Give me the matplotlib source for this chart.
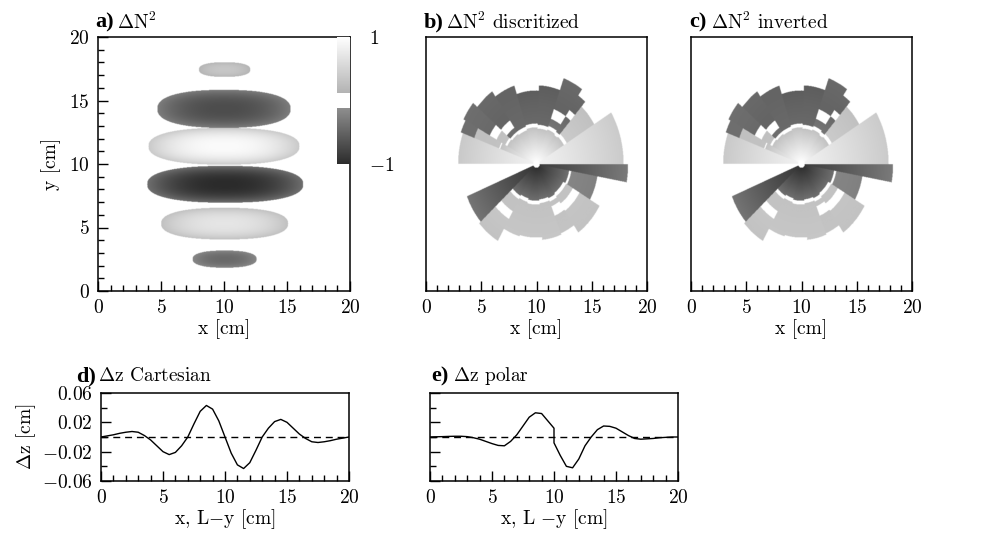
import numpy as np
import matplotlib
matplotlib.use('Agg')
import matplotlib.pyplot as plt
from matplotlib.colors import LinearSegmentedColormap, Normalize
from matplotlib.ticker import MultipleLocator, FixedLocator

plt.rcParams['font.family'] = 'serif'
plt.rcParams['font.serif'] = ['cmr10', 'DejaVu Serif']
plt.rcParams['mathtext.fontset'] = 'cm'
plt.rcParams['axes.formatter.use_mathtext'] = True
plt.rcParams['font.size'] = 14

W, H = 991, 534

## == panel a: bands of the Cartesian field ==
band_y   = [2.5, 5.3, 8.4, 11.4, 14.35, 17.45]    # centre of each band (cm)
band_hy  = [0.68, 1.25, 1.45, 1.45, 1.5, 0.58]    # half height
band_x0  = [7.5, 5.0, 3.9, 4.0, 4.7, 8.0]         # left end
band_x1  = [12.6, 15.1, 16.3, 16.0, 15.3, 12.1]   # right end
band_amp = [-0.45, 0.7, -1.0, 0.95, -0.7, 0.35]   # peak value

## == panels b, c: polar cells (angle edges in deg, then radial pieces r1, r2, v1, v2) ==
wedge_edges = [0, 31, 48, 55, 70, 88, 108, 125, 140, 152, 160, 180,
               202, 222, 240, 255, 275, 292, 305, 330, 350, 360]
wedge_rings = [
    [(0.3, 7.9, 0.85, 0.40)],                                                  # 0-31
    [(0.3, 2.9, 0.95, 0.30), (3.2, 6.1, 0.40, 0.28)],                          # 31-48
    [(0.3, 2.8, 0.95, 0.30), (3.1, 4.6, -0.35, -0.45), (5.2, 6.6, -0.5, -0.45)],
    [(0.3, 2.9, 0.95, 0.30), (3.2, 3.8, -0.35, -0.4), (4.6, 7.2, -0.5, -0.45)],
    [(0.3, 2.8, 0.95, 0.30), (3.1, 6.2, -0.45, -0.55)],
    [(0.3, 2.9, 0.95, 0.30), (3.2, 5.8, -0.45, -0.55)],
    [(0.3, 2.8, 0.95, 0.30), (3.1, 6.5, -0.45, -0.5)],
    [(0.3, 2.9, 0.95, 0.30), (3.1, 3.5, -0.4, -0.4), (4.2, 7.0, -0.5, -0.45)],
    [(0.3, 3.0, 0.95, 0.30), (3.2, 4.1, 0.3, 0.28), (4.8, 7.5, -0.45, -0.4)],
    [(0.3, 3.5, 0.9, 0.30), (3.6, 6.0, 0.3, 0.28), (6.0, 7.3, -0.4, -0.4)],
    [(0.3, 7.1, 0.85, 0.38)],                                                  # 160-180
    [],                                                                        # 180-202
    [(0.3, 6.8, -0.9, -0.35)],                                                 # 202-222
    [(0.3, 2.9, -0.95, -0.4), (3.2, 4.3, 0.3, 0.3), (5.0, 7.0, 0.35, 0.3)],
    [(0.3, 2.8, -0.95, -0.4), (3.1, 5.9, 0.3, 0.35)],
    [(0.3, 2.9, -0.95, -0.4), (3.2, 5.8, 0.3, 0.35)],
    [(0.3, 2.8, -0.95, -0.4), (3.1, 6.0, 0.3, 0.35)],
    [(0.3, 2.9, -0.95, -0.4), (3.2, 3.6, 0.3, 0.3), (4.4, 5.9, 0.3, 0.32)],
    [(0.3, 2.8, -0.95, -0.4), (3.1, 3.8, 0.3, 0.3), (4.5, 6.6, 0.33, 0.3)],
    [(0.3, 3.0, -0.9, -0.4), (3.2, 5.6, -0.2, -0.25)],
    [(0.3, 8.3, -0.85, -0.30)],                                                # 350-360
]

## == panels d, e: displacement profiles ==
d_x  = [0, 0.5, 1, 1.5, 2, 2.5, 3, 3.5, 4, 4.5, 5, 5.5, 6, 6.5, 7, 7.5, 8, 8.5, 9, 9.5,
        10, 10.5, 11, 11.5, 12, 12.5, 13, 13.5, 14, 14.5, 15, 15.5, 16, 16.5, 17, 17.5,
        18, 18.5, 19, 19.5, 20]
d_dz = [0.0, 0.0015, 0.003, 0.005, 0.0065, 0.0075, 0.0065, 0.002, -0.004, -0.012, -0.020,
        -0.024, -0.021, -0.012, 0.0, 0.018, 0.035, 0.043, 0.038, 0.022,
        0.0, -0.022, -0.038, -0.043, -0.035, -0.018, 0.0, 0.012, 0.021, 0.024, 0.020,
        0.012, 0.004, -0.002, -0.0065, -0.0075, -0.0065, -0.005, -0.003, -0.0015, 0.0]
e_x  = [0, 0.5, 1, 1.5, 2, 2.5, 3, 3.5, 4, 4.5, 5, 5.5, 6, 6.5, 7, 7.5, 8, 8.5, 9, 9.5,
        10, 10, 10.5, 11, 11.5, 12, 12.5, 13, 13.5, 14, 14.5, 15, 15.5, 16, 16.5, 17, 17.5,
        18, 18.5, 19, 19.5, 20]
e_dz = [0.0, 0.0003, 0.0005, 0.0008, 0.001, 0.001, 0.0005, -0.001, -0.003, -0.006, -0.009,
        -0.0115, -0.012, -0.006, 0.003, 0.015, 0.027, 0.033, 0.032, 0.022,
        0.012, -0.008, -0.025, -0.040, -0.042, -0.030, -0.012, 0.0, 0.010, 0.015, 0.0145,
        0.012, 0.007, 0.002, -0.002, -0.003, -0.0025, -0.002, -0.001, -0.0005, 0.0, 0.0]

## == colour map: white around zero, light for +, dark for - ==
seg = [(0.0, 0.17, 0.17), (0.44, 0.56, 1.0), (0.56, 1.0, 0.70), (1.0, 1.0, 1.0)]
dn2_cmap = LinearSegmentedColormap('dn2', {'red': seg, 'green': seg, 'blue': seg})
norm = Normalize(-1, 1)

g = np.linspace(0, 20, 601)
X, Y = np.meshgrid(g, g)

F = np.zeros_like(X)
for yc, hy, x0, x1, amp in zip(band_y, band_hy, band_x0, band_x1, band_amp):
    xc, hx = (x0 + x1) / 2, (x1 - x0) / 2
    s = np.abs((X - xc) / hx)**2.4 + np.abs((Y - yc) / hy)**2.4
    m = s <= 1
    F[m] = amp * (1 - 0.6 * s[m])

Rr = np.hypot(X - 10, Y - 10)
Th = np.degrees(np.arctan2(Y - 10, X - 10)) % 360
G = np.zeros_like(X)
for t1, t2, rings in zip(wedge_edges[:-1], wedge_edges[1:], wedge_rings):
    for r1, r2, v1, v2 in rings:
        m = (Th >= t1) & (Th < t2) & (Rr >= r1) & (Rr < r2)
        G[m] = v1 + (v2 - v1) * (Rr[m] - r1) / (r2 - r1)


def px(x0, y0, w, h):
    return [x0 / W, 1 - (y0 + h) / H, w / W, h / H]


def style(ax, yticks=True):
    ax.set_xlim(0, 20)
    ax.xaxis.set_major_locator(MultipleLocator(5))
    ax.xaxis.set_minor_locator(MultipleLocator(1))
    ax.tick_params(which='both', direction='in', top=False, right=False, width=1)
    ax.tick_params(which='major', length=7, pad=6)
    ax.tick_params(which='minor', length=4)
    if not yticks:
        ax.set_yticks([])
    for sp in ax.spines.values():
        sp.set_linewidth(1.1)


def title(x, y, tag, text):
    fig.text(x / W, 1 - y / H, tag, fontfamily='Liberation Serif', fontweight='bold',
             fontsize=16, va='center', ha='left')
    fig.text((x + 22) / W, 1 - y / H, text, fontsize=14, va='center', ha='left')


fig = plt.figure(figsize=(W / 100, H / 100), dpi=100)

ax_a = fig.add_axes(px(98, 37, 252, 254))
im = ax_a.imshow(F, extent=[0, 20, 0, 20], origin='lower', cmap=dn2_cmap, norm=norm,
                 aspect='auto', interpolation='bilinear')
style(ax_a)
ax_a.set_ylim(0, 20)
ax_a.yaxis.set_major_locator(MultipleLocator(5))
ax_a.yaxis.set_minor_locator(MultipleLocator(1))
ax_a.set_xlabel('x [cm]', labelpad=1)
ax_a.set_ylabel('y [cm]', labelpad=6)

cax = fig.add_axes(px(337, 37, 13, 127))
cb = fig.colorbar(im, cax=cax, ticks=[-1, 1])
cb.outline.set_visible(False)
cax.tick_params(length=0, pad=14, labelsize=14)

for x0, lab, tag, field in [(426, r'$\Delta\mathrm{N}^2$ discritized', 'b)', G),
                            (691, r'$\Delta\mathrm{N}^2$ inverted', 'c)', G)]:
    ax = fig.add_axes(px(x0, 37, 221, 254))
    ax.imshow(field, extent=[0, 20, 0, 20], origin='lower', cmap=dn2_cmap, norm=norm,
              aspect='auto', interpolation='bilinear')
    style(ax, yticks=False)
    ax.set_ylim(0, 20)
    ax.set_xlabel('x [cm]', labelpad=1)
    title(x0 - 2, 22, tag, lab)

title(95, 22, 'a)', r'$\Delta\mathrm{N}^2$')

ax_d = fig.add_axes(px(101, 393, 248, 88))
ax_d.plot(d_x, d_dz, color='k', lw=1)
ax_d.axhline(0, color='k', lw=1, ls=(0, (5, 3.5)))
style(ax_d)
ax_d.set_ylim(-0.06, 0.06)
ax_d.yaxis.set_major_locator(FixedLocator([-0.06, -0.02, 0.02, 0.06]))
ax_d.yaxis.set_minor_locator(FixedLocator([-0.04, 0, 0.04]))
ax_d.set_xlabel(r'x, L$-$y [cm]', labelpad=0)
ax_d.set_ylabel(r'$\Delta$z [cm]', labelpad=3)
title(76, 376, 'd)', r'$\Delta$z Cartesian')

ax_e = fig.add_axes(px(430, 393, 248, 88))
ax_e.plot(e_x, e_dz, color='k', lw=1)
ax_e.axhline(0, color='k', lw=1, ls=(0, (5, 3.5)))
style(ax_e)
ax_e.set_ylim(-0.06, 0.06)
ax_e.yaxis.set_major_locator(FixedLocator([-0.06, -0.02, 0.02, 0.06]))
ax_e.yaxis.set_minor_locator(FixedLocator([-0.04, 0, 0.04]))
ax_e.set_yticklabels([])
ax_e.set_xlabel(r'x, L $-$y [cm]', labelpad=0)
title(431, 376, 'e)', r'$\Delta$z polar')

fig.savefig('out.png', dpi=100)
